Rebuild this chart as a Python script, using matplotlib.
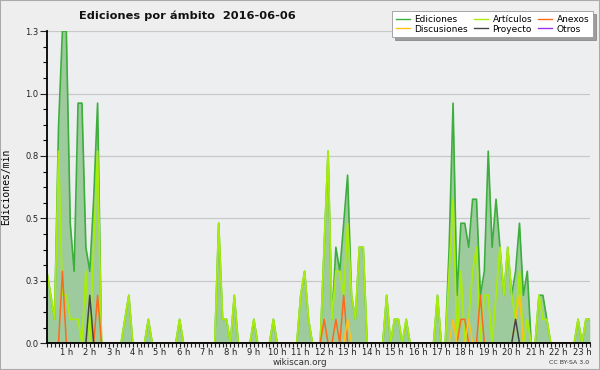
import numpy as np
import matplotlib
matplotlib.use('Agg')
import matplotlib.pyplot as plt
from matplotlib.patches import Rectangle

# 10-minute slots, end time in minutes (00:10 ... 23:20)
minutos = np.arange(10, 1401, 10)

# edits per minute, one row = 2 hours
ediciones = [
    .3, .2, .1, .9, 1.3, 1.3, .5, .3, 1.0, 1.0, .4, .3,
    .6, 1.0, 0, 0, 0, 0, 0, 0, .1, .2, 0, 0,
    0, 0, .1, 0, 0, 0, 0, 0, 0, 0, .1, 0,
    0, 0, 0, 0, 0, 0, 0, 0, .5, .1, .1, 0,
    .2, 0, 0, 0, 0, .1, 0, 0, 0, 0, .1, 0,
    0, 0, 0, 0, 0, .2, .3, .1, 0, 0, 0, .4,
    .8, .1, .4, .3, .5, .7, .2, .1, .4, .4, 0, 0,
    0, 0, 0, .2, 0, .1, .1, 0, .1, 0, 0, 0,
    0, 0, 0, 0, .2, 0, 0, .4, 1.0, .2, .5, .5,
    .4, .6, .6, .2, .3, .8, .4, .6, .4, .2, .4, .2,
    .3, .5, .2, .3, 0, 0, .2, .2, .1, 0, 0, 0,
    0, 0, 0, 0, .1, 0, .1, .1,
]
articulos = [
    .3, .2, .1, .8, .2, .2, .1, .1, .1, 0, .3, 0,
    .4, .8, 0, 0, 0, 0, 0, 0, .1, .2, 0, 0,
    0, 0, .1, 0, 0, 0, 0, 0, 0, 0, .1, 0,
    0, 0, 0, 0, 0, 0, 0, 0, .5, .1, .1, 0,
    .2, 0, 0, 0, 0, .1, 0, 0, 0, 0, .1, 0,
    0, 0, 0, 0, 0, .2, .3, .1, 0, 0, 0, .4,
    .8, .1, .3, .3, .2, .5, .2, .1, .4, .4, 0, 0,
    0, 0, 0, .2, 0, .1, .1, 0, .1, 0, 0, 0,
    0, 0, 0, 0, .2, 0, 0, .3, .6, 0, .3, 0,
    .1, .3, .4, 0, .2, .2, 0, .2, .4, .2, .4, .2,
    .1, .3, 0, .1, 0, 0, .2, .1, .1, 0, 0, 0,
    0, 0, 0, 0, .1, 0, .1, .1,
]
anexos = [
    0, 0, 0, 0, .3, 0, 0, 0, 0, 0, 0, 0,
    0, .2, 0, 0, 0, 0, 0, 0, 0, 0, 0, 0,
    0, 0, 0, 0, 0, 0, 0, 0, 0, 0, 0, 0,
    0, 0, 0, 0, 0, 0, 0, 0, 0, 0, 0, 0,
    0, 0, 0, 0, 0, 0, 0, 0, 0, 0, 0, 0,
    0, 0, 0, 0, 0, 0, 0, 0, 0, 0, 0, .1,
    0, 0, .1, 0, .2, 0, 0, 0, 0, 0, 0, 0,
    0, 0, 0, 0, 0, 0, 0, 0, 0, 0, 0, 0,
    0, 0, 0, 0, 0, 0, 0, 0, 0, 0, .1, .1,
    0, 0, 0, .2, 0, 0, 0, 0, 0, 0, 0, 0,
    0, 0, 0, 0, 0, 0, 0, 0, 0, 0, 0, 0,
    0, 0, 0, 0, 0, 0, 0, 0,
]
discusiones = [
    0, 0, 0, 0, 0, 0, 0, 0, 0, 0, 0, 0,
    0, 0, 0, 0, 0, 0, 0, 0, 0, 0, 0, 0,
    0, 0, 0, 0, 0, 0, 0, 0, 0, 0, 0, 0,
    0, 0, 0, 0, 0, 0, 0, 0, 0, 0, 0, 0,
    0, 0, 0, 0, 0, 0, 0, 0, 0, 0, 0, 0,
    0, 0, 0, 0, 0, 0, 0, 0, 0, 0, 0, 0,
    0, 0, 0, 0, 0, .1, 0, 0, 0, 0, 0, 0,
    0, 0, 0, 0, 0, 0, 0, 0, 0, 0, 0, 0,
    0, 0, 0, 0, 0, 0, 0, 0, .1, 0, 0, 0,
    .1, 0, 0, 0, 0, 0, 0, 0, 0, 0, 0, 0,
    .1, .2, 0, 0, 0, 0, 0, 0, 0, 0, 0, 0,
    0, 0, 0, 0, 0, 0, 0, 0,
]
proyecto = [
    0, 0, 0, 0, 0, 0, 0, 0, 0, 0, 0, .2,
    0, 0, 0, 0, 0, 0, 0, 0, 0, 0, 0, 0,
    0, 0, 0, 0, 0, 0, 0, 0, 0, 0, 0, 0,
    0, 0, 0, 0, 0, 0, 0, 0, 0, 0, 0, 0,
    0, 0, 0, 0, 0, 0, 0, 0, 0, 0, 0, 0,
    0, 0, 0, 0, 0, 0, 0, 0, 0, 0, 0, 0,
    0, 0, 0, 0, 0, 0, 0, 0, 0, 0, 0, 0,
    0, 0, 0, 0, 0, 0, 0, 0, 0, 0, 0, 0,
    0, 0, 0, 0, 0, 0, 0, 0, 0, 0, 0, 0,
    0, 0, 0, 0, 0, 0, 0, 0, 0, 0, 0, 0,
    .1, 0, 0, 0, 0, 0, 0, 0, 0, 0, 0, 0,
    0, 0, 0, 0, 0, 0, 0, 0,
]
otros = [
    0, 0, 0, 0, 0, 0, 0, 0, 0, 0, 0, 0,
    0, 0, 0, 0, 0, 0, 0, 0, 0, 0, 0, 0,
    0, 0, 0, 0, 0, 0, 0, 0, 0, 0, 0, 0,
    0, 0, 0, 0, 0, 0, 0, 0, 0, 0, 0, 0,
    0, 0, 0, 0, 0, 0, 0, 0, 0, 0, 0, 0,
    0, 0, 0, 0, 0, 0, 0, 0, 0, 0, 0, 0,
    0, 0, 0, 0, 0, 0, 0, 0, 0, 0, 0, 0,
    0, 0, 0, 0, 0, 0, 0, 0, 0, 0, 0, 0,
    0, 0, 0, 0, 0, 0, 0, 0, 0, 0, 0, 0,
    0, 0, 0, 0, 0, 0, 0, 0, 0, 0, 0, 0,
    0, 0, 0, 0, 0, 0, 0, 0, 0, 0, 0, 0,
    0, 0, 0, 0, 0, 0, 0, 0,
]

y_ticks = [0, 0.26, 0.52, 0.78, 1.04, 1.3]
y_labels = ['0.0', '0.3', '0.5', '0.8', '1.0', '1.3']
hour_ticks = list(range(1, 24))
hour_labels = ['%d h' % h for h in hour_ticks]

plt.rcParams['font.family'] = 'DejaVu Sans'

fig = plt.figure(figsize=(6, 3.7), dpi=100, facecolor='#eeeeee')
ax = fig.add_axes([0.078, 0.072, 0.905, 0.844])
ax.set_facecolor('#eceef0')

x = minutos / 60.0

ax.fill_between(x, ediciones, 0, color='#9ecb9e', lw=0, zorder=1)
ax.plot(x, ediciones, color='#3cae3c', lw=1.2, zorder=2, label='Ediciones')
ax.plot(x, articulos, color='#a8ec0c', lw=1.3, zorder=2.1, label='Artículos')
ax.plot(x, anexos, color='#ff6a1a', lw=1.1, zorder=2.2, label='Anexos')
ax.plot(x, discusiones, color='#ffc21a', lw=1.1, zorder=2.2, label='Discusiones')
ax.plot(x, proyecto, color='#444444', lw=1.1, zorder=2.3, label='Proyecto')
ax.plot(x, otros, color='#9933ee', lw=1.1, zorder=2.0, label='Otros')

ax.set_xlim(x[0], x[-1])
ax.set_ylim(0, 1.3)

ax.set_yticks(y_ticks)
ax.set_yticklabels(y_labels)
ax.set_yticks(np.arange(0, 1.31, 0.065), minor=True)
ax.set_xticks(hour_ticks)
ax.set_xticklabels(hour_labels)
ax.set_xticks(x, minor=True)

ax.tick_params(axis='y', which='major', length=5, width=0.8, labelsize=6, colors='#222222', pad=1)
ax.tick_params(axis='y', which='minor', length=3, width=0.8)
ax.tick_params(axis='x', which='both', length=3, width=0.8, labelsize=6, colors='#222222', pad=0.3)

ax.grid(axis='y', which='major', color='#c8c8c8', lw=0.9)
ax.set_axisbelow(True)
for s in ['top', 'right']:
    ax.spines[s].set_visible(False)
for s in ['left', 'bottom']:
    ax.spines[s].set_linewidth(1.3)
    ax.spines[s].set_zorder(3)

ax.set_ylabel('Ediciones/min', family='DejaVu Sans Mono', fontsize=7)
ax.yaxis.set_label_coords(-0.066, 0.5)

fig.text(0.3125, 0.957, 'Ediciones por ámbito  2016-06-06', ha='center', va='center',
         fontsize=8.2, fontweight='bold', color='#111111')
fig.text(0.5, 0.02, 'wikiscan.org', ha='center', va='center', fontsize=6.3, color='#333333')
fig.text(0.982, 0.02, 'CC BY-SA 3.0', ha='right', va='center', fontsize=4.5, color='#333333')

handles, labels = ax.get_legend_handles_labels()
order = [0, 3, 1, 4, 2, 5]
leg = fig.legend([handles[i] for i in order], [labels[i] for i in order],
                 loc='upper right', bbox_to_anchor=(0.988, 0.97), ncol=3,
                 fontsize=6.5, frameon=True, fancybox=False, shadow=True,
                 handlelength=1.6, handletextpad=0.5, columnspacing=0.6,
                 labelspacing=0.1, borderpad=0.4, borderaxespad=0)
leg.get_frame().set_edgecolor('#999999')
leg.get_frame().set_linewidth(0.6)
for line in leg.get_lines():
    line.set_linewidth(1.0)

fig.patches.append(Rectangle((0, 0), 1, 1, transform=fig.transFigure, fill=False,
                             edgecolor='#aaaaaa', lw=1.5))

fig.savefig('out.png', dpi=100, facecolor=fig.get_facecolor())
